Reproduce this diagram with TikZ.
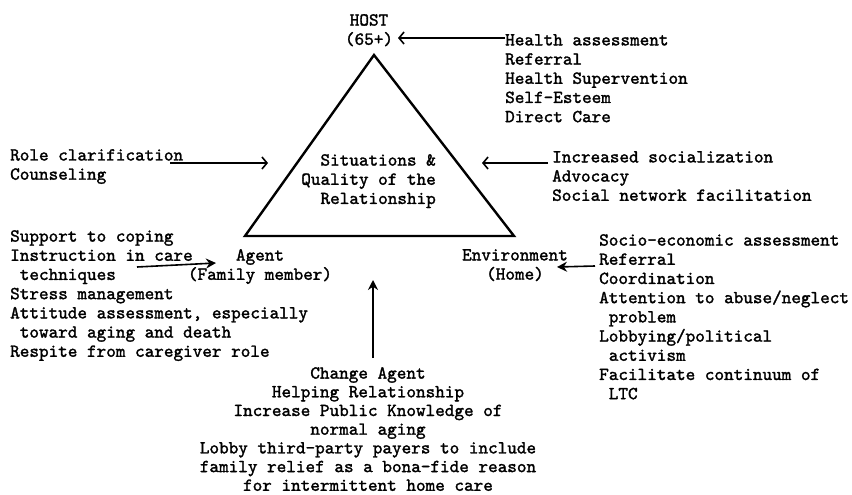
\documentclass[tikz,border=0pt]{standalone}
\usepackage{fontspec}
\newfontfamily\typedface{lmmono10-regular.otf}[FakeBold=1.6]
\usetikzlibrary{arrows.meta,positioning,calc}
\newcommand{\listfont}{\typedface\fontsize{18.3}{19.2}\selectfont}
\newcommand{\indentone}{\hspace*{0.525em}}
\tikzset{
    % Typed lists of interventions
    item list/.style={
        font=\listfont,
        align=left,
        inner sep=0pt,
        anchor=north west,
        execute at begin node=\strut
    },
    % Names at the corners of the triangle
    corner/.style={
        item list,
        align=center,
        anchor=north
    },
    side/.style={
        line width=2.4pt,
        line join=miter
    },
    arrow/.style={
        -{Straight Barb[length=5pt,width=12pt]},
        line width=1.6pt
    },
    arrow solid/.style={
        -{Stealth[length=10pt,width=10pt]},
        line width=1.6pt
    }
}
\begin{document}
\begin{tikzpicture}[x=1pt, y=-1pt]
    \useasboundingbox (0,0) rectangle (852,495);

    % Triangle
    \coordinate (apex) at (374,55);
    \coordinate (base_l) at (245,236);
    \coordinate (base_r) at (514,236);
    \draw[side] (apex) -- (base_l) -- (base_r) -- cycle;

    % Corners and centre
    \node[corner] (host) at (369,14) {HOST\\(65+)};
    \node[corner] (agent) at (260,249) {Agent\\(Family member)};
    \node[corner] (env) at (515,249) {Environment\\(Home)};
    \node[item list, align=right, anchor=north east] (rel) at (436,154)
          {Situations \&\\Quality of the\\Relationship};

    % Interventions
    \node[item list] (host_r) at (505,34)
          {Health assessment\\Referral\\Health Supervention\\Self-Esteem\\Direct Care};
    \node[item list] (rel_l) at (10,149) {Role clarification\\Counseling};
    \node[item list] (rel_r) at (552,151)
          {Increased socialization\\Advocacy\\Social network facilitation};
    \node[item list] (agent_r) at (10,230)
          {Support to coping\\Instruction in care\\\indentone techniques\\Stress management\\%
           Attitude assessment, especially\\\indentone toward aging and death\\Respite from caregiver role};
    \node[item list] (env_r) at (599,234)
          {Socio-economic assessment\\Referral\\Coordination\\Attention to abuse/neglect\\%
           \indentone problem\\Lobbying/political\\\indentone activism\\Facilitate continuum of\\\indentone LTC};
    \node[corner, font=\typedface\fontsize{18.3}{18.7}\selectfont] (change) at (368,367)
          {Change Agent\\Helping Relationship\\Increase Public Knowledge of\\normal aging\\%
           Lobby third-party payers to include\\family relief as a bona-fide reason\\for intermittent home care};

    % Arrow ends
    \coordinate (host_in) at (398,38);
    \coordinate (rel_in_l) at (268,163);
    \coordinate (rel_in_r) at (482,163);
    \coordinate (agent_in) at (216,263);
    \coordinate (env_in) at (557,267);
    \coordinate (base_in) at (373,280);

    % Arrows
    \draw[arrow] ([yshift=-4pt]host_r.north west) -- (host_in);
    \draw[arrow] ($(rel_l.east |- rel_in_l)+(-13,0)$) -- (rel_in_l);
    \draw[arrow] ([xshift=-4pt,yshift=-12pt]rel_r.north west) -- (rel_in_r);
    \draw[arrow solid] ($(agent_r.north west)+(127,37)$) -- (agent_in);
    \draw[arrow solid] ([xshift=-4pt,yshift=-32pt]env_r.north west) -- (env_in);
    \draw[arrow solid] ($(base_in |- change.north)+(0,-9)$) -- (base_in);
\end{tikzpicture}
\end{document}
